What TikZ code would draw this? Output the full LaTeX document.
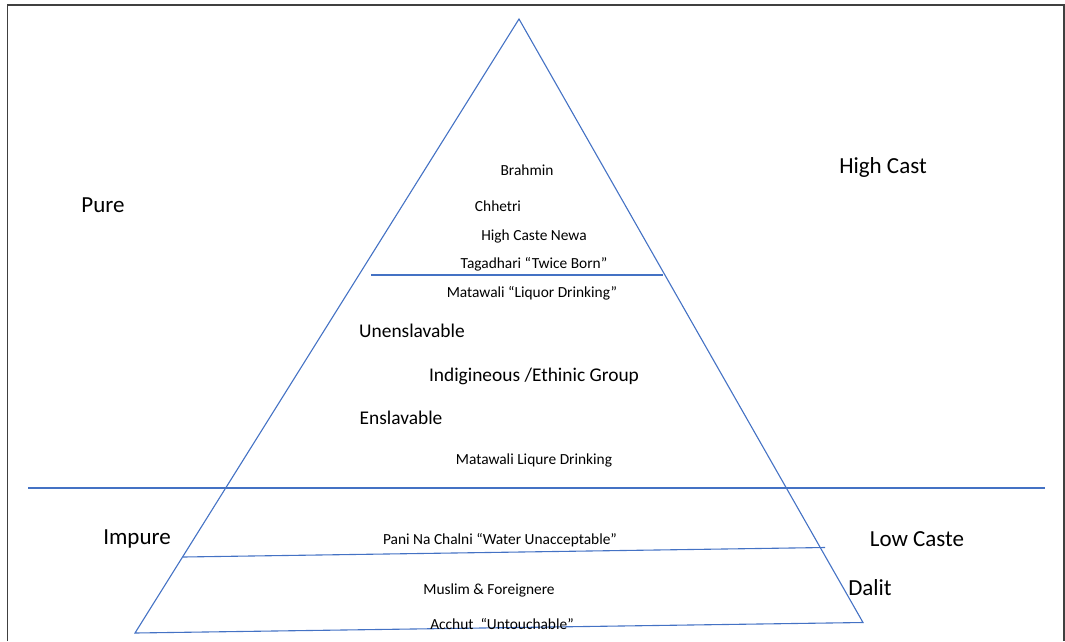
\documentclass[tikz,border=0pt]{standalone}
\usepackage{fontspec}
\setmainfont{Carlito}
\definecolor{lineblue}{HTML}{4472C4}
\definecolor{framegray}{HTML}{404040}
\begin{document}
\begin{tikzpicture}[x=1pt,y=-1pt,
  edge/.style={draw=lineblue,line width=1.1pt},
  small/.style={inner sep=0pt,font=\fontsize{15.4}{18}\selectfont},
  big/.style={inner sep=0pt,font=\fontsize{19.4}{23}\selectfont},
  side/.style={inner sep=0pt,font=\fontsize{23}{27}\selectfont}]
\useasboundingbox (0,0) rectangle (1065,641);
\draw[framegray,line width=1.6pt] (7.5,641) -- (7.5,5) -- (1064,5) -- (1064,641);
% triangle
\coordinate (apex) at (519,19);
\coordinate (bl) at (135,633);
\coordinate (br) at (863,622.5);
\draw[edge] (apex) -- (bl) -- (br) -- cycle;
% dividing lines
\coordinate (h1) at (28,488);
\coordinate (h2) at (1045,488);
\draw[edge] (h1) -- (h2);
\coordinate (t1) at (371,275);
\coordinate (t2) at (663,275);
\draw[edge] (t1) -- (t2);
\coordinate (p1) at (183,557);
\coordinate (p2) at (825,547.5);
\draw[edge] (p1) -- (p2);
% texts
\node[small] (brahmin) at (527,170) {Brahmin};
\node[small] (chhetri) at (498,206) {Chhetri};
\node[small] (newa) at (534,236) {High Caste Newa};
\node[small] (taga) at (534,264) {Tagadhari “Twice Born”};
\node[small] (mata) at (532,293) {Matawali “Liquor Drinking”};
\node[big] (unen) at (412,331) {Unenslavable};
\node[big] (indi) at (534,376) {Indigineous /Ethinic Group};
\node[big] (ensl) at (401,418) {Enslavable};
\node[small] (liq) at (534,460) {Matawali Liqure Drinking};
\node[small] (pani) at (500,540) {Pani Na Chalni “Water Unacceptable”};
\node[small] (musl) at (489,590) {Muslim \& Foreignere};
\node[small] (acch) at (502,624) {Acchut \ “Untouchable”};
\node[side] (high) at (883,167) {High Cast};
\node[side] (pure) at (103,205) {Pure};
\node[side] (impure) at (137,539) {Impure};
\node[side] (low) at (917,539) {Low Caste};
\node[side] (dalit) at (870,588) {Dalit};
\end{tikzpicture}
\end{document}
